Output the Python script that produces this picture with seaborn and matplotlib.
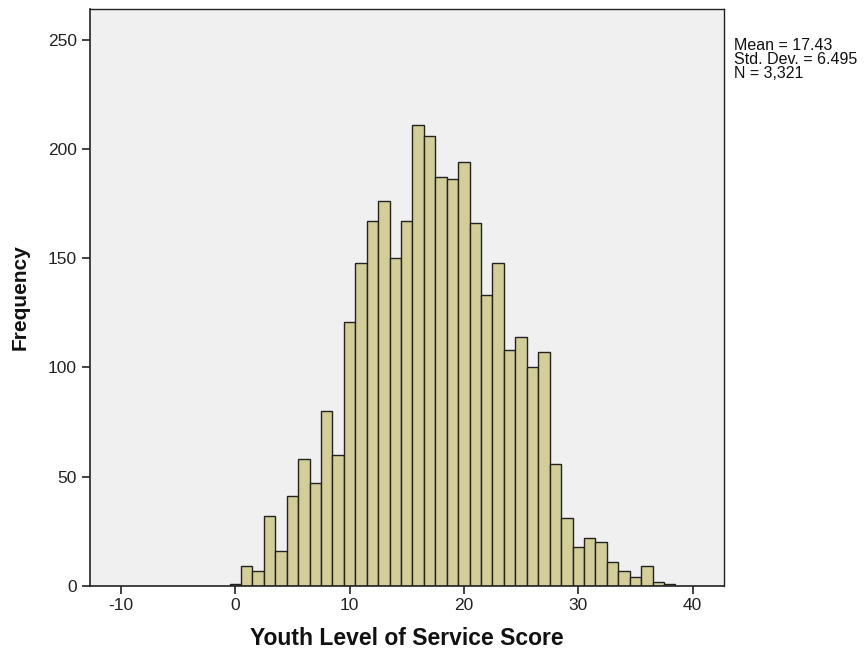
import matplotlib
matplotlib.use("Agg")
import matplotlib.pyplot as plt
import seaborn as sns
import numpy as np

# Data (bin width 1, centered on integer scores)
scores = list(range(0, 39))
counts = [1, 9, 7, 32, 16, 41, 58, 47, 80, 60,
          121, 148, 167, 176, 150, 167, 211, 206, 187, 186,
          194, 166, 133, 148, 108, 114, 100, 107, 56, 31,
          18, 22, 20, 11, 7, 4, 9, 2, 1]
x_ticks = [-10, 0, 10, 20, 30, 40]
y_ticks = [0, 50, 100, 150, 200, 250]
stats_lines = ["Mean = 17.43", "Std. Dev. = 6.495", "N = 3,321"]
x_label = "Youth Level of Service Score"
y_label = "Frequency"

sns.set_theme(style="white")
plt.rcParams['font.family'] = ['Liberation Sans', 'DejaVu Sans']
plt.rcParams['axes.unicode_minus'] = False

fig = plt.figure(figsize=(8.68, 6.5), dpi=100)
fig.patch.set_facecolor("white")
ax = fig.add_axes([89.5 / 868, 1 - 586 / 650, (724 - 89.5) / 868, (586 - 9) / 650])
ax.set_facecolor("#F0F0F0")

sns.histplot(x=scores, weights=counts, discrete=True, ax=ax,
             color="#D3CE97", edgecolor="#222222", linewidth=1.0, alpha=1.0)

ax.set_xlim(-12.75, 42.75)
ax.set_ylim(0, 264)
ax.set_xticks(x_ticks)
ax.set_yticks(y_ticks)
ax.tick_params(axis="both", direction="out", length=6, width=1.2, color="#222222",
               labelsize=12.5, labelcolor="#222222", bottom=True, left=True, pad=3)

for side in ["left", "bottom", "top", "right"]:
    ax.spines[side].set_visible(True)
    ax.spines[side].set_color("#222222")
    ax.spines[side].set_linewidth(1.2)
ax.spines["top"].set_linewidth(1.0)
ax.spines["right"].set_linewidth(1.0)

ax.set_xlabel(x_label, fontsize=16.5, fontweight="bold", color="#111111", labelpad=10)
ax.set_ylabel(y_label, fontsize=15, fontweight="bold", color="#111111", labelpad=13)

fig.text(734 / 868, 1 - 38 / 650, "\n".join(stats_lines), fontsize=11.5,
         color="#111111", ha="left", va="top", linespacing=0.9)

fig.savefig("out.png", dpi=100)
